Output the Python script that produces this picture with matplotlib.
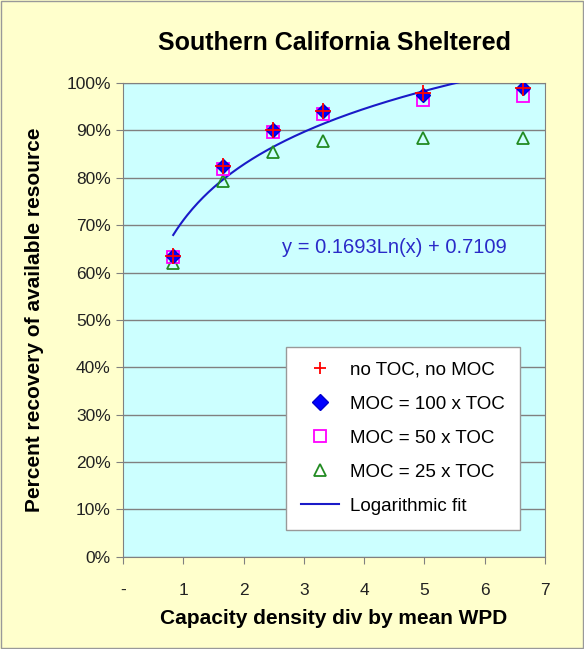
import numpy as np
import matplotlib
matplotlib.use("Agg")
import matplotlib.pyplot as plt
from matplotlib.ticker import FuncFormatter

plt.rcParams['font.family'] = ['Liberation Sans', 'DejaVu Sans']

# data
x = [0.83, 1.66, 2.49, 3.32, 4.98, 6.64]
no_toc = [0.635, 0.825, 0.900, 0.942, 0.978, 0.990]
moc_100 = [0.635, 0.825, 0.900, 0.942, 0.975, 0.990]
moc_50 = [0.633, 0.818, 0.896, 0.935, 0.965, 0.972]
moc_25 = [0.620, 0.793, 0.855, 0.877, 0.885, 0.885]
fit_a = 0.1693
fit_b = 0.7109
x_labels = ['-', '1', '2', '3', '4', '5', '6', '7']

fig = plt.figure(figsize=(5.84, 6.49), dpi=100, facecolor='#FFFFCC')
ax = fig.add_axes([0.211, 0.142, 0.722, 0.730])
ax.set_facecolor('#CCFFFF')

# fit curve
xf = np.linspace(min(x), max(x), 200)
ax.plot(xf, fit_a * np.log(xf) + fit_b, color='#1A1AC8', lw=1.5, label='Logarithmic fit', zorder=3)

ax.plot(x, moc_25, ls='none', marker='^', ms=9, mfc='none', mec='#228B22', mew=1.3,
        label='MOC = 25 x TOC', zorder=4)
ax.plot(x, moc_50, ls='none', marker='s', ms=9, mfc='none', mec='#FF00FF', mew=1.3,
        label='MOC = 50 x TOC', zorder=5)
ax.plot(x, moc_100, ls='none', marker='D', ms=7, mfc='#0000FF', mec='#0000CC',
        label='MOC = 100 x TOC', zorder=6)
ax.plot(x, no_toc, ls='none', marker='+', ms=11, mec='#FF0000', mew=1.3,
        label='no TOC, no MOC', zorder=7)

ax.set_xlim(0, 7)
ax.set_ylim(0, 1.0)
ax.set_xticks(range(8))
ax.set_xticklabels(x_labels)
ax.set_yticks(np.arange(0, 1.01, 0.1))
ax.yaxis.set_major_formatter(FuncFormatter(lambda v, p: f"{v*100:.0f}%"))
ax.grid(axis='y', color='#808080', lw=1)
ax.set_axisbelow(True)
for s in ax.spines.values():
    s.set_color('#808080')
ax.tick_params(labelsize=12.5, colors='#222222', length=5, color='#808080')
ax.tick_params(axis='x', pad=14)
ax.tick_params(axis='y', pad=4)

ax.set_title('Southern California Sheltered', fontsize=18, fontweight='bold', pad=24)
ax.set_xlabel('Capacity density div by mean WPD', fontsize=15, fontweight='bold', labelpad=8)
ax.set_ylabel('Percent recovery of available resource', fontsize=15, fontweight='bold', labelpad=16)

ax.text(0.377, 0.652, 'y = 0.1693Ln(x) + 0.7109', transform=ax.transAxes,
        color='#2A2AC8', fontsize=14.5, va='center')

h, l = ax.get_legend_handles_labels()
order = [4, 3, 2, 1, 0]
hs = [h[i] for i in order]
leg = ax.legend(hs, [l[i] for i in order], loc='lower right',
                bbox_to_anchor=(0.941, 0.057), borderaxespad=0, fontsize=13.5,
                frameon=True, fancybox=False,
                edgecolor='#999999', facecolor='white', framealpha=1,
                labelspacing=0.9, borderpad=0.8, handletextpad=0.6)
for lh in leg.legend_handles[:4]:
    lh.set_markersize(8)

fig.patches.append(plt.Rectangle((0.002, 0.002), 0.996, 0.996, transform=fig.transFigure,
                                 fill=False, edgecolor='#999999', lw=1))

fig.savefig('out.png', dpi=100, facecolor=fig.get_facecolor())
